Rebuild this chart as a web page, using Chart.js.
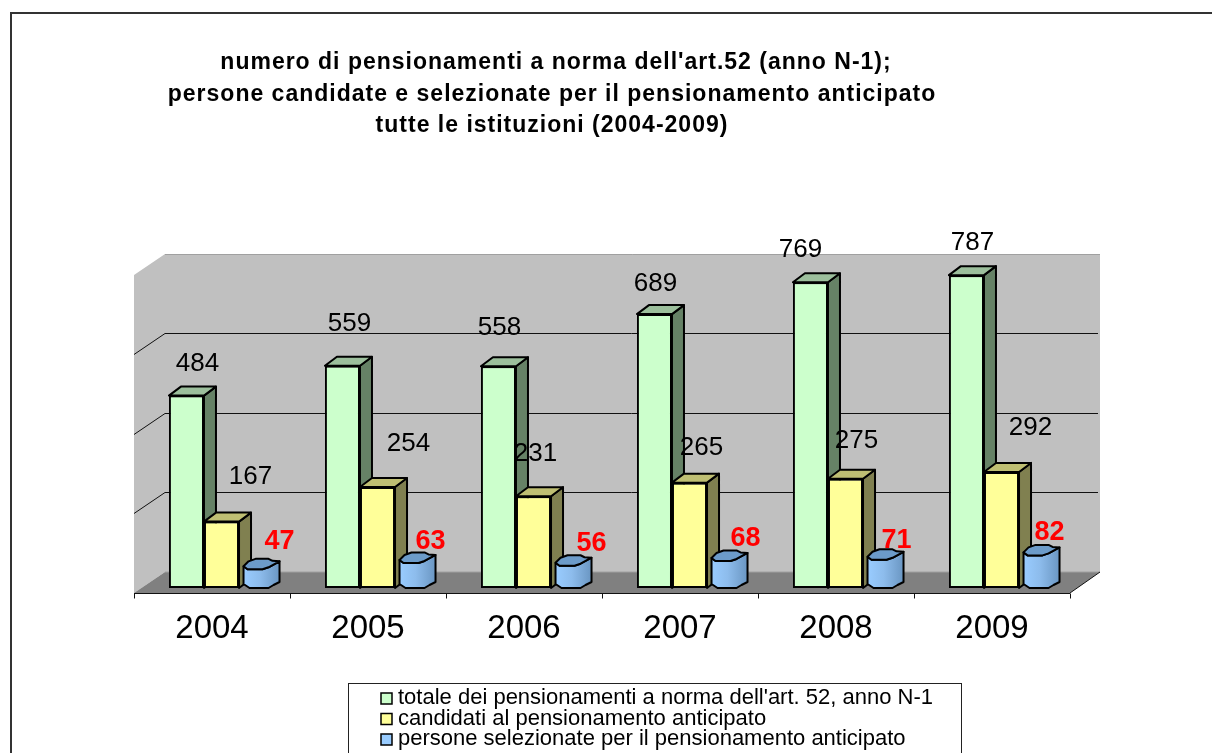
<!DOCTYPE html>
<html>
<head>
<meta charset="utf-8">
<style>
  html, body { margin: 0; padding: 0; background: #fff; }
  canvas { display: block; }
</style>
<script src="https://cdn.jsdelivr.net/npm/chart.js@4"></script>
</head>
<body>
<canvas id="chart" width="1212" height="753"></canvas>
<script>
const years = ['2004', '2005', '2006', '2007', '2008', '2009'];
const totale = [484, 559, 558, 689, 769, 787];
const candidati = [167, 254, 231, 265, 275, 292];
const selezionate = [47, 63, 56, 68, 71, 82];

const seriesNames = [
  "totale dei pensionamenti a norma dell'art. 52, anno N-1",
  'candidati al pensionamento anticipato',
  'persone selezionate per il pensionamento anticipato'
];
const seriesColors = ['#ccffcc', '#ffff99', '#99ccff'];
const titleLines = [
  "numero di pensionamenti a norma dell'art.52 (anno N-1);",
  'persone candidate e selezionate per il pensionamento anticipato',
  'tutte le istituzioni (2004-2009)'
];
const titleCenters = [556, 552, 552];

// the labels in the original sit at uneven places around the bars: [dx, dy] from bar top centre
const totaleNudge = [[11, -32], [7, -42], [1, -38], [1, -30], [-10, -32], [6, -32]];
const candidatiNudge = [[29, -45], [31, -43], [2, -42], [12, -35], [11, -38], [29, -44]];
const selezionateNudge = [[23, -28], [18, -21], [23, -22], [21, -22], [16, -19], [13, -23]];

const FONT = '"Liberation Sans", Arial, sans-serif';
const DEPTH_X = 12, DEPTH_Y = 9;
const SHIFT = 9.5;          // front edge of the box sits left of the bar groups
const BACK_DX = 21, BACK_DY = -16, FRONT_DY = 5;

const line = (ctx, x1, y1, x2, y2) => {
  ctx.beginPath();
  ctx.moveTo(x1, y1);
  ctx.lineTo(x2, y2);
  ctx.stroke();
};

const poly = (ctx, pts, fill) => {
  ctx.beginPath();
  pts.forEach((p, i) => (i ? ctx.lineTo(p[0], p[1]) : ctx.moveTo(p[0], p[1])));
  ctx.closePath();
  ctx.fillStyle = fill;
  ctx.fill();
  ctx.stroke();
};

// frame, box walls, floor, grid lines, axis
const boxPlugin = {
  id: 'box',
  beforeDatasetsDraw(chart) {
    const { ctx, chartArea: a, scales: { x, y } } = chart;
    const zero = y.getPixelForValue(0), top = y.getPixelForValue(y.max);
    const l = a.left - SHIFT, r = a.right - SHIFT;
    const backL = l + BACK_DX + 10, backR = r + BACK_DX + 9;
    const frontY = zero + FRONT_DY, backY = zero + BACK_DY;
    ctx.save();
    ctx.strokeStyle = '#333';
    ctx.lineWidth = 2;
    ctx.beginPath();
    ctx.moveTo(11, 753);
    ctx.lineTo(11, 13);
    ctx.lineTo(1212, 13);
    ctx.stroke();

    ctx.fillStyle = '#c0c0c0';
    ctx.beginPath();
    ctx.moveTo(l, frontY);
    ctx.lineTo(l, top + FRONT_DY);
    ctx.lineTo(backL, top + BACK_DY);
    ctx.lineTo(backR, top + BACK_DY);
    ctx.lineTo(backR, backY);
    ctx.lineTo(backL, backY);
    ctx.closePath();
    ctx.fill();

    ctx.fillStyle = '#808080';
    ctx.beginPath();
    ctx.moveTo(l, frontY);
    ctx.lineTo(backL, backY);
    ctx.lineTo(backR, backY);
    ctx.lineTo(r, frontY);
    ctx.closePath();
    ctx.fill();

    ctx.strokeStyle = '#a0a0a0';
    ctx.lineWidth = 1;
    line(ctx, backL, backY, backR, backY);
    line(ctx, backL, top + BACK_DY + 0.5, backR, top + BACK_DY + 0.5);

    ctx.strokeStyle = '#111';
    y.ticks.forEach(t => {
      if (t.value === 0 || t.value === y.max) return;
      const py = Math.floor(y.getPixelForValue(t.value) + BACK_DY) + 0.5;
      line(ctx, l, py + 21, backL, py);
      line(ctx, backL, py, backR - 2, py);
    });

    line(ctx, r, frontY, backR, backY);
    const ay = Math.round(frontY) + 0.5;
    line(ctx, l, ay, r, ay);
    x.ticks.forEach((t, i) => {
      const px = Math.round(l + (r - l) * i / x.ticks.length) + 0.5;
      line(ctx, px, ay, px, ay + 5);
    });
    line(ctx, Math.round(r) + 0.5, ay, Math.round(r) + 0.5, ay + 5);
    ctx.restore();

    // sides and tops of the two box series, the library then paints the fronts over them
    ctx.save();
    ctx.strokeStyle = '#000';
    ctx.lineWidth = 2;
    ctx.lineJoin = 'round';
    [[0, '#668266', '#9cbf9c'], [1, '#808050', '#bfbf73']].forEach(([ds, side, cap]) => {
      chart.getDatasetMeta(ds).data.forEach(b => {
        const xl = b.x - b.width / 2, xr = b.x + b.width / 2;
        poly(ctx, [[xr, b.y], [xr + DEPTH_X, b.y - DEPTH_Y], [xr + DEPTH_X, b.base - DEPTH_Y], [xr, b.base]], side);
        poly(ctx, [[xl, b.y], [xl + DEPTH_X, b.y - DEPTH_Y], [xr + DEPTH_X, b.y - DEPTH_Y], [xr, b.y]], cap);
      });
    });
    ctx.restore();
  },

  afterDatasetsDraw(chart) {
    const { ctx } = chart;
    // the third series is a squat, slightly lumpy cylinder
    ctx.save();
    ctx.strokeStyle = '#000';
    ctx.lineWidth = 2;
    ctx.lineJoin = 'round';
    chart.getDatasetMeta(2).data.forEach(b => {
      const x0 = b.x - b.width / 2 + 4.5, w = 36, t = b.y, bot = b.base;
      const grad = ctx.createLinearGradient(x0, 0, x0 + w, 0);
      grad.addColorStop(0, '#99ccff');
      grad.addColorStop(0.45, '#8dbcec');
      grad.addColorStop(1, '#6a96c2');
      ctx.beginPath();
      ctx.moveTo(x0, t - 3);
      ctx.lineTo(x0, bot - 4);
      ctx.lineTo(x0 + 6, bot);
      ctx.lineTo(x0 + 25, bot);
      ctx.lineTo(x0 + 30, bot - 3);
      ctx.lineTo(x0 + w, bot - 6);
      ctx.lineTo(x0 + w, t - 8);
      ctx.lineTo(x0 + 25, t - 2);
      ctx.lineTo(x0 + 19, t);
      ctx.lineTo(x0 + 4, t);
      ctx.closePath();
      ctx.fillStyle = grad;
      ctx.fill();
      ctx.stroke();
      poly(ctx, [[x0, t - 3], [x0 + 5, t - 8], [x0 + 12, t - 10.5], [x0 + 25, t - 10.5], [x0 + 29, t - 8.5], [x0 + w, t - 8],
        [x0 + 25, t - 2], [x0 + 19, t], [x0 + 4, t]], '#6c9bc9');
    });
    ctx.restore();
  }
};

const labelPlugin = {
  id: 'texts',
  afterDraw(chart) {
    const { ctx } = chart;
    ctx.save();
    ctx.textAlign = 'center';
    ctx.textBaseline = 'middle';

    const nudges = [totaleNudge, candidatiNudge, selezionateNudge];
    chart.data.datasets.forEach((ds, d) => {
      ctx.font = d === 2 ? 'bold 27px ' + FONT : '26px ' + FONT;
      ctx.fillStyle = d === 2 ? '#ff0000' : '#000';
      chart.getDatasetMeta(d).data.forEach((b, i) => {
        ctx.fillText(String(ds.data[i]), b.x + nudges[d][i][0], b.y + nudges[d][i][1]);
      });
    });

    ctx.font = 'bold 23px ' + FONT;
    ctx.fillStyle = '#000';
    ctx.letterSpacing = '1px';
    titleLines.forEach((t, i) => ctx.fillText(t, titleCenters[i], 63 + i * 31.5));
    ctx.letterSpacing = '0px';

    // legend box runs off the bottom of the picture
    ctx.strokeStyle = '#222';
    ctx.lineWidth = 1;
    ctx.strokeRect(348.5, 683.5, 613, 90);
    ctx.textAlign = 'left';
    ctx.font = '22px ' + FONT;
    chart.data.datasets.forEach((ds, i) => {
      const ly = 698 + i * 20.5;
      ctx.fillStyle = seriesColors[i];
      ctx.strokeStyle = '#000';
      ctx.lineWidth = 1.5;
      ctx.fillRect(381, ly - 5, 11, 11);
      ctx.strokeRect(381, ly - 5, 11, 11);
      ctx.fillStyle = '#000';
      ctx.fillText(ds.label, 398, ly);
    });
    ctx.restore();
  }
};

new Chart(document.getElementById('chart'), {
  type: 'bar',
  data: {
    labels: years,
    datasets: [
      { label: seriesNames[0], data: totale, backgroundColor: seriesColors[0], borderColor: '#000', borderWidth: 2, borderSkipped: false },
      { label: seriesNames[1], data: candidati, backgroundColor: seriesColors[1], borderColor: '#000', borderWidth: 2, borderSkipped: false },
      // painted as a cylinder in the plugin, from this bar's geometry
      { label: seriesNames[2], data: selezionate, backgroundColor: 'transparent', borderWidth: 0 }
    ]
  },
  options: {
    responsive: false,
    animation: false,
    events: [],
    layout: { padding: { left: 143.5, right: 132.5, top: 270, bottom: 0 } },
    datasets: { bar: { categoryPercentage: 0.674, barPercentage: 1 } },
    scales: {
      x: {
        grid: { display: false },
        border: { display: false },
        afterFit: s => { s.height = 165; },
        ticks: {
          color: '#000',
          font: { family: FONT, size: 33 },
          padding: 13,
          labelOffset: -SHIFT,
          maxRotation: 0
        }
      },
      y: { display: false, min: 0, max: 800, ticks: { stepSize: 200 } }
    },
    plugins: { legend: { display: false }, title: { display: false }, tooltip: { enabled: false } }
  },
  plugins: [boxPlugin, labelPlugin]
});
</script>
</body>
</html>
